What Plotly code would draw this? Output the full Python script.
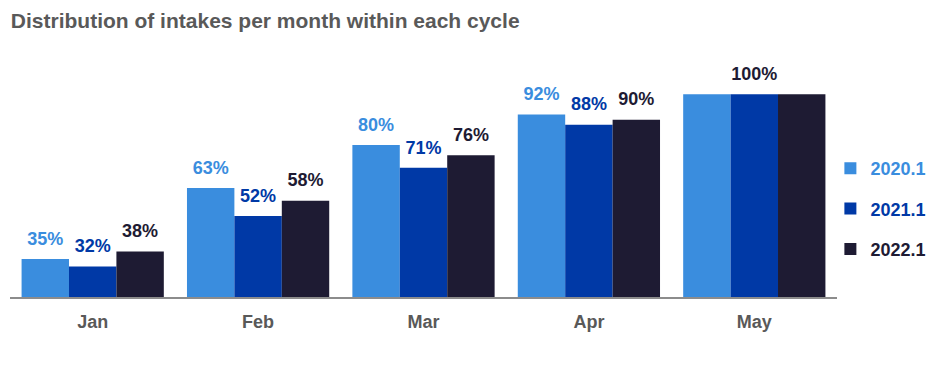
import plotly.graph_objects as go

months = ["Jan", "Feb", "Mar", "Apr", "May"]
series_names = ["2020.1", "2021.1", "2022.1"]
v2020 = [35, 63, 80, 92, 100]
v2021 = [32, 52, 71, 88, 100]
v2022 = [38, 58, 76, 90, 100]
colors = ["#3A8DDE", "#0039A6", "#1E1B33"]

FONT = "Liberation Sans, Arial"
values = [v2020, v2021, v2022]
fig = go.Figure()
for i, (name, vals, col) in enumerate(zip(series_names, values, colors)):
    fig.add_trace(go.Bar(
        name=f"<span style='color:{col}'>{name}</span>", x=months, y=vals,
        marker=dict(color=col, line=dict(width=0)),
        offsetgroup=name, legendgroup=name, hoverinfo="x+y",
    ))
for i, (name, vals, col) in enumerate(zip(series_names, values, colors)):
    texts, tcolors = [], []
    for v in vals:
        if v == 100:
            texts.append(f"{v}%" if i == 1 else "")
            tcolors.append(colors[2])
        else:
            texts.append(f"{v}%")
            tcolors.append(col)
    fig.add_trace(go.Scatter(
        x=months, y=vals, mode="markers+text", text=texts,
        textposition="top center", offsetgroup=name, showlegend=False,
        marker=dict(size=14, color="rgba(0,0,0,0)"), hoverinfo="skip",
        textfont=dict(family=FONT, size=18, color=tcolors, weight="bold"),
        cliponaxis=False,
    ))

fig.update_layout(
    width=942, height=378,
    margin=dict(l=2, r=113, t=61, b=89),
    paper_bgcolor="white", plot_bgcolor="white",
    barmode="group", bargap=0.14, bargroupgap=0,
    scattermode="group", scattergap=0.14,
    title=dict(text="<b>Distribution of intakes per month within each cycle</b>",
               x=0.003, xanchor="left", y=0.985, yanchor="top",
               font=dict(family=FONT, size=21, color="#595959")),
    font=dict(family=FONT),
    legend=dict(x=0.992, xanchor="left", y=0.386, yanchor="middle",
                font=dict(size=18, color="#333", weight="bold"), tracegroupgap=14,
                itemwidth=30, bgcolor="rgba(0,0,0,0)"),
    showlegend=True,
)
fig.update_xaxes(showline=True, linecolor="#8C8C8C", linewidth=1.5, ticks="",
                 ticklabelstandoff=8,
                 tickfont=dict(size=18, color="#595959", family=FONT, weight="bold"),
                 showgrid=False)
fig.update_yaxes(range=[20, 110], visible=False, showgrid=False)
fig.write_html("out.html")
